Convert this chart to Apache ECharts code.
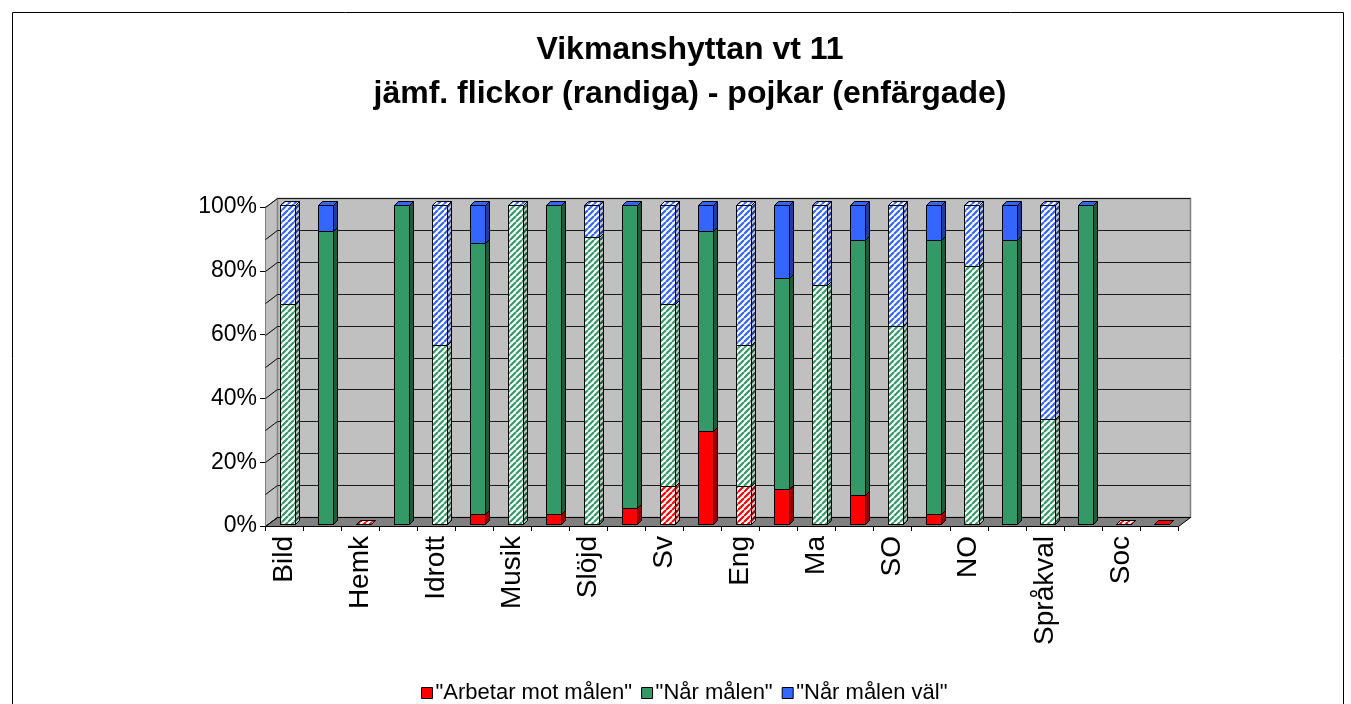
<!DOCTYPE html>
<html>
<head>
<meta charset="utf-8">
<title>Vikmanshyttan vt 11</title>
<script src="https://cdn.jsdelivr.net/npm/echarts@6/dist/echarts.min.js"></script>
<style>
  html, body { margin: 0; padding: 0; background: #fff; }
  #chart { width: 1351px; height: 704px; }
</style>
</head>
<body>
<div id="chart"></div>
<script>
// subjects, each has a girls bar (striped) and a boys bar (solid)
const subjects = ['Bild', 'Hemk', 'Idrott', 'Musik', 'Slöjd', 'Sv', 'Eng', 'Ma', 'SO', 'NO', 'Språkval', 'Soc'];
const seriesNames = ['"Arbetar mot målen"', '"Når målen"', '"Når målen väl"'];

// [flickor, pojkar] in percent, null = no data
const arbetarMot = [[0, 0], [0, 0], [0, 3], [0, 3], [0, 5], [12, 29], [12, 11], [0, 9], [0, 3], [0, 0], [0, 0], [0, 0]];
const narMalen = [[69, 92], [null, 100], [56, 85], [100, 97], [90, 95], [57, 63], [44, 66], [75, 80], [62, 86], [81, 89], [33, 100], [null, null]];
const narMalenVal = [[31, 8], [null, 0], [44, 12], [0, 0], [10, 0], [31, 8], [44, 23], [25, 11], [38, 11], [19, 11], [67, 0], [null, null]];

const wallLevels = [0, 10, 20, 30, 40, 50, 60, 70, 80, 90, 100];

const colors = [
    { front: '#ff0000', side: '#990000' },
    { front: '#339966', side: '#1d5c3b' },
    { front: '#3366ff', side: '#1f3d99' }
];

// 3d look
const DX = 12, DY = -9;     // wall depth
const D = 4;                // bar depth
const OFF_X = 3, OFF_Y = -2;

function stripes(color, bg) {
    const c = document.createElement('canvas');
    c.width = c.height = 6;
    const g = c.getContext('2d');
    g.fillStyle = bg;
    g.fillRect(0, 0, 6, 6);
    g.strokeStyle = color;
    g.lineWidth = 2.2;
    g.beginPath();
    [-6, 0, 6].forEach(o => { g.moveTo(o, 6); g.lineTo(o + 6, 0); });
    g.stroke();
    return c;
}
const fills = colors.map(c => ({
    solid: { front: c.front, side: c.side, top: c.front },
    striped: {
        front: { image: stripes(c.front, '#ffffff'), repeat: 'repeat' },
        side: { image: stripes(c.side, '#c8c8c8'), repeat: 'repeat' },
        top: { image: stripes(c.front, '#ffffff'), repeat: 'repeat' }
    }
}));

const cats = [];
subjects.forEach(s => { cats.push(s + '|F', s + '|P'); });

const table = [arbetarMot, narMalen, narMalenVal];
// stacked segments: [catIndex, base, value, girl]
const segData = table.map(() => []);
subjects.forEach((s, k) => {
    [0, 1].forEach(g => {
        let base = 0;
        table.forEach((arr, si) => {
            const v = arr[k][g];
            if (v == null) return;
            segData[si].push([k * 2 + g, base, v, g === 0 ? 1 : 0]);
            base += v;
        });
    });
});

function px(v) { return Math.round(v) + 0.5; }

function renderWall(params, api) {
    const w = api.size([1, 0])[0];
    const left = px(api.coord([0, 0])[0] - w / 2);
    const right = px(api.coord([cats.length - 1, 0])[0] + w / 2);
    const yb = px(api.coord([0, 0])[1]);
    const yt = px(api.coord([0, 100])[1]);
    const children = [
        { type: 'polygon', shape: { points: [[left, yt], [left + DX, yt + DY], [left + DX, yb + DY], [left, yb]] },
          style: { fill: '#c0c0c0', stroke: '#808080', lineWidth: 1 } },
        { type: 'rect', shape: { x: left + DX, y: yt + DY, width: right - left, height: yb - yt },
          style: { fill: '#c0c0c0', stroke: '#808080', lineWidth: 1.5 } },
        { type: 'polygon', shape: { points: [[left, yb], [right, yb], [right + DX, yb + DY], [left + DX, yb + DY]] },
          style: { fill: '#808080', stroke: '#000', lineWidth: 1 } }
    ];
    wallLevels.forEach(v => {
        const y = px(api.coord([0, v])[1]);
        if (v > 0) {
            children.push({ type: 'line', shape: { x1: left + DX, y1: y + DY, x2: right + DX, y2: y + DY },
                style: { stroke: '#1a1a1a', lineWidth: 1 } });
        }
        children.push({ type: 'line', shape: { x1: left, y1: y, x2: left + DX, y2: y + DY },
            style: { stroke: '#000', lineWidth: 1 } });
    });
    return { type: 'group', children };
}

function renderSeg(params, api) {
    const si = params.seriesIndex - 1;
    const i = api.value(0), base = api.value(1), val = api.value(2), girl = api.value(3);
    const w = api.size([1, 0])[0];
    const bw = Math.round(w * 0.4);
    const cx = api.coord([i, 0])[0];
    const x0 = px(cx - bw / 2 + OFF_X), x1 = x0 + bw;
    const yb = px(api.coord([i, base])[1] + OFF_Y);
    const yt = px(api.coord([i, base + val])[1] + OFF_Y);
    const f = girl ? fills[si].striped : fills[si].solid;
    const edge = { stroke: '#000', lineWidth: 1 };
    return {
        type: 'group',
        children: [
            { type: 'polygon', shape: { points: [[x1, yb], [x1 + D, yb - D], [x1 + D, yt - D], [x1, yt]] },
              style: Object.assign({ fill: f.side }, edge) },
            { type: 'rect', shape: { x: x0, y: yt, width: bw, height: yb - yt },
              style: Object.assign({ fill: f.front }, edge) },
            { type: 'polygon', shape: { points: [[x0, yt], [x1, yt], [x1 + D, yt - D], [x0 + D, yt - D]] },
              style: Object.assign({ fill: f.top }, edge) }
        ]
    };
}

const series = [{
    name: 'wall',
    type: 'custom',
    renderItem: renderWall,
    data: [[0, 0]],
    encode: { x: 0, y: 1 },
    silent: true,
    z: 1
}];
seriesNames.forEach((name, si) => {
    series.push({
        name: name,
        type: 'custom',
        renderItem: renderSeg,
        data: segData[si],
        encode: { x: 0, y: [1, 2] },
        itemStyle: { color: colors[si].front },
        z: 3
    });
});

const chart = echarts.init(document.getElementById('chart'));
chart.setOption({
    animation: false,
    backgroundColor: '#fff',
    textStyle: { fontFamily: 'Liberation Sans, Arial, sans-serif', color: '#000' },
    title: {
        text: 'Vikmanshyttan vt 11\njämf. flickor (randiga) - pojkar (enfärgade)',
        left: 685,
        top: 23,
        textAlign: 'center',
        textStyle: { fontSize: 32, fontWeight: 'bold', lineHeight: 44, color: '#000', fontFamily: 'Liberation Sans, Arial, sans-serif' }
    },
    legend: {
        data: seriesNames,
        top: 677,
        left: 416,
        icon: 'rect',
        itemWidth: 11,
        itemHeight: 11,
        itemGap: 9,
        itemStyle: { borderColor: '#000', borderWidth: 1 },
        textStyle: { fontSize: 22, color: '#000', padding: [0, 0, 0, -2] }
    },
    grid: { left: 265, right: 173, top: 207, bottom: 178 },
    xAxis: {
        type: 'category',
        data: cats,
        boundaryGap: true,
        axisLine: { lineStyle: { color: '#000', width: 1 } },
        axisTick: { show: true, interval: 0, length: 5, lineStyle: { color: '#000' } },
        axisLabel: {
            interval: 0,
            rotate: 90,
            margin: 10,
            fontSize: 28,
            color: '#000',
            formatter: v => v.endsWith('|F') ? v.split('|')[0] : ''
        },
        splitLine: { show: false }
    },
    yAxis: {
        type: 'value',
        min: 0,
        max: 100,
        interval: 20,
        axisLine: { show: true, lineStyle: { color: '#000', width: 1 } },
        axisTick: { show: true, length: 5, lineStyle: { color: '#000' } },
        axisLabel: { fontSize: 23, color: '#000', margin: 8, formatter: '{value}%' },
        splitLine: { show: false }
    },
    graphic: [{
        type: 'rect',
        left: 10, top: 10,
        shape: { width: 1331, height: 720 },
        style: { fill: 'none', stroke: '#000', lineWidth: 1 },
        silent: true,
        z: 0
    }],
    series: series
});
</script>
</body>
</html>
